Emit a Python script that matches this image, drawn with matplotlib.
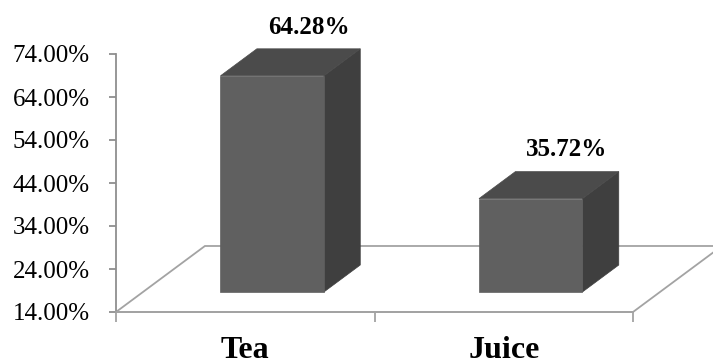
import numpy as np
import matplotlib.pyplot as plt
from matplotlib.patches import Polygon

categories = ['Tea', 'Juice']
values = [64.28, 35.72]
value_labels = ['64.28%', '35.72%']
yticks = [14, 24, 34, 44, 54, 64, 74]

plt.rcParams['font.family'] = ['Liberation Serif', 'DejaVu Serif']

fig = plt.figure(figsize=(7.13, 3.6), dpi=100)
ax = fig.add_axes([116 / 713, 48 / 360, 517 / 713, 258 / 360])
ax.set_xlim(0, len(categories))
ax.set_ylim(yticks[0], yticks[-1])
base = yticks[0]

# oblique depth direction (data units per full floor depth)
depth_dx = 0.344
depth_dy = 15.35
bar_width = 0.40
front_d, back_d = 0.303, 0.712

grid_col = '#a3a3a3'
front_col = '#606060'
side_col = '#3f3f3f'
top_col = '#4b4b4b'

# floor outline
x0, x1 = 0, len(categories)
floor = [(x0, base), (x1, base),
         (x1 + depth_dx, base + depth_dy), (x0 + depth_dx, base + depth_dy)]
ax.add_patch(Polygon(floor, closed=True, facecolor='none', edgecolor=grid_col,
                     lw=1.3, clip_on=False, zorder=1))

for i, v in enumerate(values):
    cx = i + 0.5
    l, r = cx - bar_width / 2, cx + bar_width / 2
    fdx, fdy = front_d * depth_dx, front_d * depth_dy
    bdx, bdy = back_d * depth_dx, back_d * depth_dy
    yb, yt = base + fdy, v + fdy
    front = [(l + fdx, yb), (r + fdx, yb), (r + fdx, yt), (l + fdx, yt)]
    side = [(r + fdx, yb), (r + bdx, base + bdy), (r + bdx, v + bdy), (r + fdx, yt)]
    top = [(l + fdx, yt), (r + fdx, yt), (r + bdx, v + bdy), (l + bdx, v + bdy)]
    for pts, c in [(side, side_col), (top, top_col), (front, front_col)]:
        ax.add_patch(Polygon(pts, closed=True, facecolor=c, edgecolor=c,
                             lw=0.5, clip_on=False, zorder=3))
    ax.annotate(value_labels[i], xy=(cx + bdx, v + bdy), xytext=(0, 11),
                textcoords='offset points', ha='center', va='baseline',
                fontsize=18, fontweight='bold', annotation_clip=False)

for s in ['top', 'right']:
    ax.spines[s].set_visible(False)
ax.spines['left'].set_color('#8f8f8f')
ax.spines['bottom'].set_color(grid_col)
ax.spines['left'].set_linewidth(1.3)
ax.spines['bottom'].set_linewidth(1.3)

ax.set_yticks(yticks)
ax.set_yticklabels([f'{t:.2f}%' for t in yticks], fontsize=18)
ax.tick_params(axis='y', direction='out', length=5, width=1.3, color='#8f8f8f', pad=14)

ax.set_xticks(np.arange(len(categories) + 1))
ax.set_xticklabels([])
ax.set_xticks(np.arange(len(categories)) + 0.5, minor=True)
ax.set_xticklabels(categories, minor=True, fontsize=23, fontweight='bold')
ax.tick_params(axis='x', which='major', direction='out', length=7, width=1.3, color=grid_col)
ax.tick_params(axis='x', which='minor', length=0, pad=17)
ax.patch.set_visible(False)

fig.savefig('out.png', dpi=100)
